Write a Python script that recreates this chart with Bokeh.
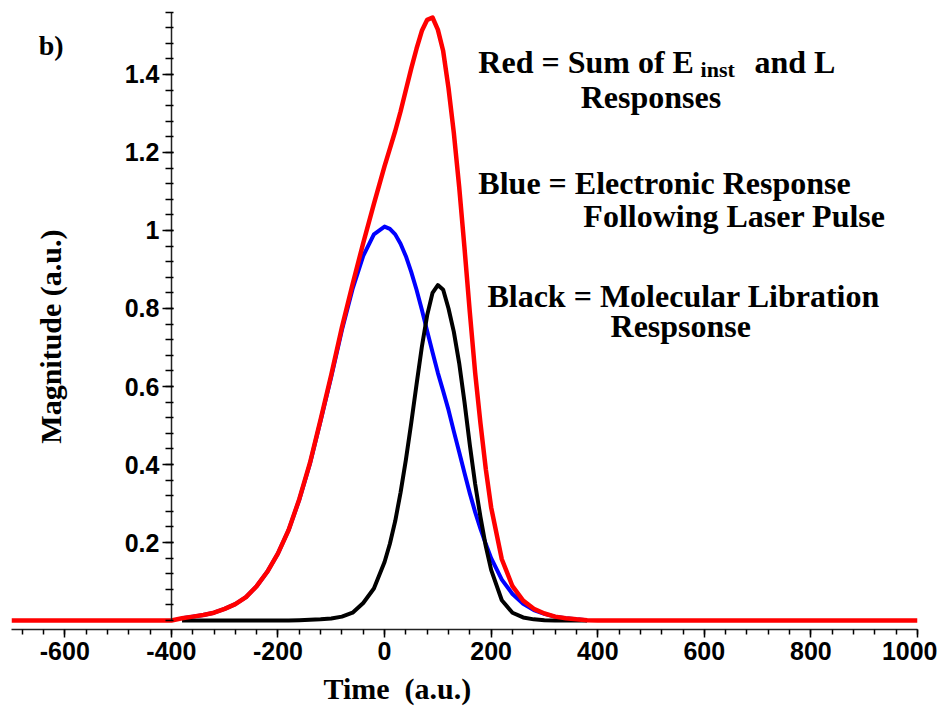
import math
from bokeh.plotting import figure
from bokeh.models import FixedTicker, Label, Range1d, Title
from bokeh.embed import file_html
from bokeh.resources import INLINE

# ---- data ----
t_grid = [-380, -360, -340, -320, -300, -280, -260, -240, -220, -200, -180, -160,
          -140, -120, -100, -80, -60, -40, -20, 0, 10, 20, 30, 40, 50, 60, 70, 80,
          90, 100, 110, 120, 130, 140, 150, 160, 170, 180, 190, 200, 220, 240, 260,
          280, 300, 320, 340, 360, 380]

blue_vals = [0.006, 0.010, 0.014, 0.020, 0.030, 0.042, 0.060, 0.088, 0.125, 0.172,
             0.232, 0.310, 0.402, 0.512, 0.625, 0.745, 0.850, 0.935, 0.990, 1.010,
             1.004, 0.990, 0.966, 0.934, 0.894, 0.848, 0.797, 0.742, 0.688, 0.635,
             0.588, 0.540, 0.485, 0.432, 0.378, 0.326, 0.278, 0.235, 0.196, 0.160,
             0.105, 0.068, 0.043, 0.027, 0.017, 0.010, 0.006, 0.003, 0.001]

black_vals = [0.0, 0.0, 0.0, 0.0, 0.0, 0.0, 0.0, 0.0, 0.0, 0.0,
              0.0, 0.001, 0.002, 0.003, 0.005, 0.010, 0.020, 0.045, 0.082, 0.150,
              0.197, 0.255, 0.328, 0.412, 0.506, 0.605, 0.702, 0.783, 0.840, 0.860,
              0.848, 0.800, 0.740, 0.660, 0.560, 0.450, 0.350, 0.265, 0.190, 0.130,
              0.052, 0.020, 0.008, 0.003, 0.001, 0.0, 0.0, 0.0, 0.0]

red_t = [-700, -400] + t_grid + [400, 1000]
red_vals = [0.0, 0.0,
            0.006, 0.010, 0.014, 0.020, 0.030, 0.042, 0.060, 0.088, 0.125, 0.172,
            0.232, 0.311, 0.404, 0.515, 0.630, 0.752, 0.862, 0.968, 1.068, 1.165,
            1.210, 1.255, 1.305, 1.360, 1.415, 1.466, 1.512, 1.540, 1.546, 1.515,
            1.460, 1.365, 1.250, 1.112, 0.955, 0.790, 0.635, 0.505, 0.388, 0.290,
            0.157, 0.088, 0.051, 0.030, 0.018, 0.010, 0.006, 0.003, 0.001,
            0.0, 0.0]

x_ticks = [-600, -400, -200, 0, 200, 400, 600, 800, 1000]
x_tick_labels = ["-600", "-400", "-200", "0", "200", "400", "600", "800", "1000"]
x_minor = [-680 + 40 * i for i in range(43)]

y_ticks = [0.2, 0.4, 0.6, 0.8, 1.0, 1.2, 1.4]
y_tick_labels = ["0.2", "0.4", "0.6", "0.8", "1", "1.2", "1.4"]
y_minor = [round(0.04 * i, 2) for i in range(40)]

# ---- figure ----
p = figure(frame_width=906, frame_height=619,
           x_range=Range1d(-700, 1000), y_range=Range1d(-0.023, 1.564),
           output_backend="svg", toolbar_location=None,
           min_border_left=11, min_border_right=20, min_border_top=10,
           min_border_bottom=6)
p.outline_line_color = None
p.grid.visible = False
p.background_fill_color = "white"

p.line(t_grid, blue_vals, line_color="#0000ff", line_width=4, line_join="round")
p.line(t_grid, black_vals, line_color="#000000", line_width=4, line_join="round")
p.line(red_t, red_vals, line_color="#ff0000", line_width=4.5, line_join="round")

tick_font = "Liberation Sans"
xa = p.xaxis[0]
xa.ticker = FixedTicker(ticks=x_ticks, minor_ticks=x_minor)
xa.major_label_overrides = {t: l for t, l in zip(x_ticks, x_tick_labels)}
xa.bounds = (-700, 1000)
xa.axis_line_width = 1.5
xa.axis_line_color = "#222222"
xa.major_tick_out = 8
xa.major_tick_in = 0
xa.minor_tick_out = 5
xa.minor_tick_in = 0
xa.major_tick_line_width = 1.5
xa.minor_tick_line_width = 1.5
xa.major_label_standoff = 4
xa.major_label_text_font = tick_font
xa.major_label_text_font_style = "bold"
xa.major_label_text_font_size = "25px"
xa.major_label_text_color = "black"

ya = p.yaxis[0]
ya.fixed_location = -400
ya.ticker = FixedTicker(ticks=y_ticks, minor_ticks=y_minor)
ya.major_label_overrides = {t: l for t, l in zip(y_ticks, y_tick_labels)}
ya.bounds = (0, 1.56)
ya.axis_line_width = 1.5
ya.axis_line_color = "#222222"
ya.major_tick_out = 9
ya.major_tick_in = 2
ya.minor_tick_out = 6
ya.minor_tick_in = 2
ya.major_tick_line_width = 1.5
ya.minor_tick_line_width = 1.5
ya.major_label_standoff = 3
ya.major_label_text_font = tick_font
ya.major_label_text_font_style = "bold"
ya.major_label_text_font_size = "25px"
ya.major_label_text_color = "black"

serif = "Liberation Serif"

# x-axis title, placed below the axis
p.add_layout(Title(text="Time\u00a0\u00a0(a.u.)", align="left", offset=312, standoff=14,
                   text_font=serif, text_font_style="bold", text_font_size="30px",
                   text_color="black"), "below")

def lab(x, y, text, size, **kw):
    p.add_layout(Label(x=x, y=y, text=text, text_font=serif, text_font_style="bold",
                       text_font_size=size, text_color="black", **kw))

# y-axis title
lab(-627, 0.728, "Magnitude (a.u.)", "30px", angle=math.pi / 2,
    text_align="center", text_baseline="middle")

# panel tag
lab(-649, 1.474, "b)", "28px", text_baseline="alphabetic")

# annotations
lab(176, 1.431, "Red = Sum of E", "32px", text_baseline="alphabetic")
lab(593, 1.413, "inst", "22px", text_baseline="alphabetic")
lab(694, 1.431, "and L", "32px", text_baseline="alphabetic")
lab(368, 1.341, "Responses", "32px", text_baseline="alphabetic")
lab(176, 1.121, "Blue = Electronic Response", "32px", text_baseline="alphabetic")
lab(373, 1.038, "Following Laser Pulse", "32px", text_baseline="alphabetic")
lab(193, 0.833, "Black = Molecular Libration", "32px", text_baseline="alphabetic")
lab(424, 0.756, "Respsonse", "32px", text_baseline="alphabetic")

open("out.html", "w").write(file_html(p, INLINE))
